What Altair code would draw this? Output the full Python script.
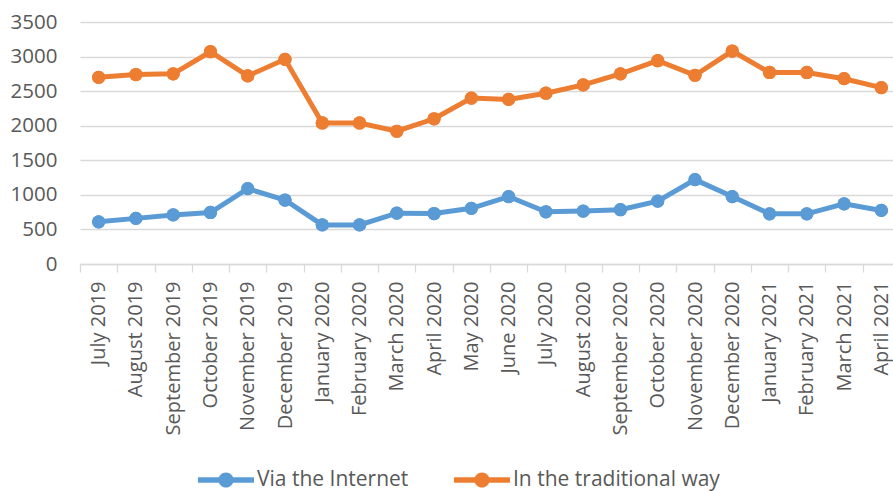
import altair as alt
import pandas as pd

months = [
    "July 2019", "August 2019", "September 2019", "October 2019", "November 2019",
    "December 2019", "January 2020", "February 2020", "March 2020", "April 2020",
    "May 2020", "June 2020", "July 2020", "August 2020", "September 2020",
    "October 2020", "November 2020", "December 2020", "January 2021",
    "February 2021", "March 2021", "April 2021",
]
internet = [610, 660, 710, 745, 1090, 925, 565, 565, 735, 730, 805, 975,
            755, 765, 785, 910, 1220, 975, 725, 725, 870, 775]
traditional = [2700, 2740, 2750, 3070, 2720, 2960, 2040, 2040, 1920, 2100, 2400, 2380,
               2470, 2590, 2750, 2940, 2730, 3080, 2770, 2770, 2680, 2550]
series_names = ["Via the Internet", "In the traditional way"]
colors = ["#5B9BD5", "#ED7D31"]

rows = []
for name, vals in zip(series_names, [internet, traditional]):
    for m, v in zip(months, vals):
        rows.append({"month": m, "series": name, "value": v})
df = pd.DataFrame(rows)

FONT = "Open Sans"
GRAY = "#595959"
LIGHT = "#d9d9d9"

legend_path = ("M-1,-0.1H1V0.1H-1Z "
               "M-0.27,0A0.27,0.27 0 1,1 0.27,0A0.27,0.27 0 1,1 -0.27,0Z")

x_enc = alt.X(
    "month:N", sort=months, title=None,
    scale=alt.Scale(type="band", range=[0, 820], paddingInner=0, paddingOuter=0),
    axis=alt.Axis(labelAngle=-90, tickBand="extent", tickSize=8, tickColor=LIGHT,
                  tickWidth=1.3, domainColor=LIGHT, domainWidth=1.3, labelPadding=9,
                  grid=False, labelFontSize=20, labelColor=GRAY, labelFont=FONT),
)
y_enc = alt.Y(
    "value:Q", title=None,
    scale=alt.Scale(domain=[0, 3500], nice=False),
    axis=alt.Axis(values=list(range(0, 3501, 500)), format="d", domain=False, ticks=False,
                  gridColor=LIGHT, gridWidth=1.3, labelFontSize=20.5, labelPadding=23,
                  labelColor=GRAY, labelFont=FONT),
)
legend = alt.Legend(
    orient="none", legendX=118, legendY=430, direction="horizontal",
    title=None, symbolType=legend_path, symbolSize=3136,
    symbolStrokeWidth=0, labelFontSize=21, labelColor=GRAY, labelLimit=400,
    labelFont=FONT, labelOffset=3, columnPadding=45,
)
color_enc = alt.Color("series:N", scale=alt.Scale(domain=series_names, range=colors),
                      legend=legend)

base = alt.Chart(df).encode(x=x_enc, y=y_enc, color=color_enc)

points = base.mark_point(filled=True, size=175, opacity=1)
lines = base.mark_line(strokeWidth=5)

chart = alt.layer(points, lines, points).properties(
    width=813, height=242,
    autosize=alt.AutoSizeParams(type="none"),
    padding={"left": 80, "top": 22, "right": 0, "bottom": 227},
).configure_view(stroke=None)

chart.save("out.html", embed_options={"renderer": "svg", "actions": False})
